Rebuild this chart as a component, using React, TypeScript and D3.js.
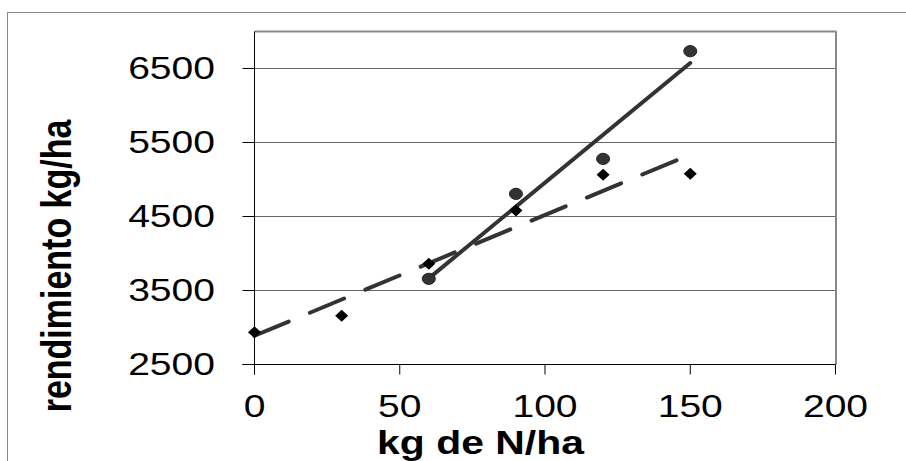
import React from "react";
import * as d3 from "d3";

const dosesA = [0, 30, 60, 90, 120, 150];
const yieldA = [2936, 3158, 3861, 4581, 5063, 5077];
const dosesB = [60, 90, 120, 150];
const yieldB = [3658, 4806, 5279, 6734];
const xTicks = [0, 50, 100, 150, 200];
const yTicks = [2500, 3500, 4500, 5500, 6500];

const W = 906;
const H = 461;
const SX = 1.24; // horizontal stretch of the reference picture
const FONT = "'Liberation Sans', Arial, sans-serif";

function fit(xs: number[], ys: number[]) {
  const mx = d3.mean(xs) as number;
  const my = d3.mean(ys) as number;
  let sxy = 0, sxx = 0;
  xs.forEach((x, i) => {
    sxy += (x - mx) * (ys[i] - my);
    sxx += (x - mx) * (x - mx);
  });
  const b = sxy / sxx;
  const a = my - b * mx;
  const x0 = d3.min(xs) as number;
  const x1 = d3.max(xs) as number;
  return [
    [x0, a + b * x0],
    [x1, a + b * x1],
  ] as [number, number][];
}

export default function App() {
  const x = d3.scaleLinear().domain([0, 200]).range([254.5, 835.5]);
  const y = d3.scaleLinear().domain([2500, 7000]).range([364.5, 31.5]);
  const line = d3
    .line<[number, number]>()
    .x((d) => x(d[0]))
    .y((d) => y(d[1]));
  const fitA = fit(dosesA, yieldA);
  const fitB = fit(dosesB, yieldB);

  return (
    <svg
      width={W}
      height={H}
      style={{ position: "absolute", left: 0, top: 0, background: "#fff" }}
    >
      <rect x={0} y={0} width={W} height={H} fill="#fff" />
      {/* outer chart border */}
      <rect x={7.5} y={12.5} width={1200} height={1200} fill="none" stroke="#888" strokeWidth={1} />

      {/* gridlines */}
      {yTicks.slice(1).map((t) => (
        <line key={"g" + t} x1={x(0)} x2={x(200)} y1={y(t)} y2={y(t)} stroke="#666" strokeWidth={1} />
      ))}
      {/* top and right frame */}
      <line x1={x(0)} x2={x(200) + 1} y1={y(7000)} y2={y(7000)} stroke="#888" strokeWidth={2} />
      <line x1={x(200) + 0.5} x2={x(200) + 0.5} y1={y(7000)} y2={y(2500)} stroke="#888" strokeWidth={2} />

      {/* y axis */}
      <line x1={x(0)} x2={x(0)} y1={y(7000)} y2={y(2500) + 10} stroke="#000" strokeWidth={1} />
      {yTicks.map((t) => (
        <g key={"yt" + t}>
          <line x1={x(0) - 12} x2={x(0)} y1={y(t)} y2={y(t)} stroke="#000" strokeWidth={1} />
          <text
            transform={`translate(215,${y(t) + 10.5}) scale(${SX},1)`}
            textAnchor="end"
            fontFamily={FONT}
            fontSize={31.5}
            fill="#000"
          >
            {t}
          </text>
        </g>
      ))}

      {/* x axis */}
      <line x1={x(0) - 12} x2={x(200)} y1={y(2500)} y2={y(2500)} stroke="#000" strokeWidth={1} />
      {xTicks.map((t) => (
        <g key={"xt" + t}>
          <line x1={x(t)} x2={x(t)} y1={y(2500)} y2={y(2500) + 10} stroke="#000" strokeWidth={1} />
          <text
            transform={`translate(${x(t)},417) scale(${SX},1)`}
            textAnchor="middle"
            fontFamily={FONT}
            fontSize={31.5}
            fill="#000"
          >
            {t}
          </text>
        </g>
      ))}

      {/* axis titles */}
      <text
        transform={`translate(480.5,454) scale(${SX},1)`}
        textAnchor="middle"
        fontFamily={FONT}
        fontWeight="bold"
        fontSize={33}
        fill="#000"
      >
        kg de N/ha
      </text>
      <text
        transform={`translate(71,266) scale(${SX},1) rotate(-90)`}
        textAnchor="middle"
        fontFamily={FONT}
        fontWeight="bold"
        fontSize={34}
        fill="#000"
      >
        rendimiento kg/ha
      </text>

      {/* trend lines */}
      <path
        d={line(fitA) || ""}
        fill="none"
        stroke="#333"
        strokeWidth={4}
        strokeLinecap="round"
        strokeDasharray="37,23"
      />
      <path d={line(fitB) || ""} fill="none" stroke="#333" strokeWidth={4} strokeLinecap="round" />

      {/* markers */}
      {dosesA.map((d, i) => {
        const cx = x(d);
        const cy = y(yieldA[i]);
        return (
          <path
            key={"a" + i}
            d={`M${cx - 6.5},${cy} L${cx},${cy - 6} L${cx + 6.5},${cy} L${cx},${cy + 6} Z`}
            fill="#000"
          />
        );
      })}
      {dosesB.map((d, i) => (
        <ellipse
          key={"b" + i}
          cx={x(d)}
          cy={y(yieldB[i])}
          rx={6.5}
          ry={5.6}
          fill="#333"
          stroke="#222"
          strokeWidth={1}
        />
      ))}
    </svg>
  );
}
